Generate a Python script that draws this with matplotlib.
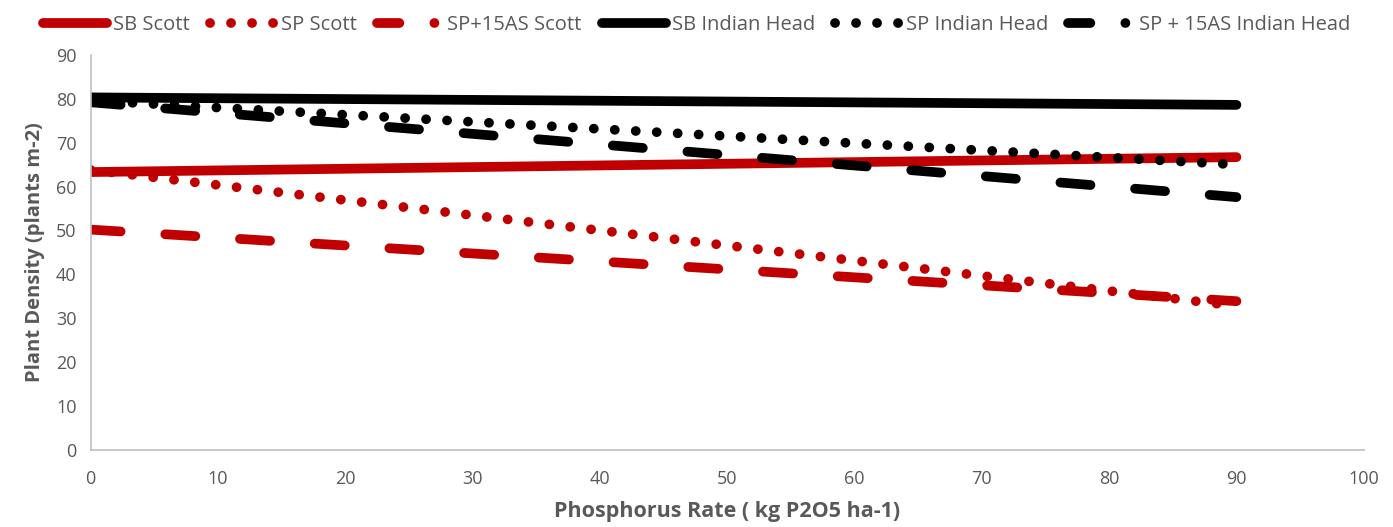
import numpy as np
import matplotlib.pyplot as plt
from matplotlib.lines import Line2D

plt.rcParams['font.family'] = ['Open Sans', 'DejaVu Sans']

# trend lines, phosphorus rate 0 -> 90
rate = [0, 90]
sb_scott = [63.3, 66.7]
sp_scott = [63.8, 32.8]
sp15_scott = [50.2, 33.9]
sb_ih = [80.3, 78.6]
sp_ih = [79.6, 65.0]
sp15_ih = [79.2, 57.6]

red = '#C00000'
blk = '#000000'
lw = 7
dot = (0, (0.01, 2.15))
dash = (0, (3.1, 4.6))
leg_dash = (0, (2.3, 3.6, 0.01, 10))

fig, ax = plt.subplots(figsize=(13.93, 5.27), dpi=100)
fig.subplots_adjust(left=0.065, right=0.979, top=0.896, bottom=0.146)

l1, = ax.plot(rate, sb_scott, color=red, lw=lw, solid_capstyle='round')
l2, = ax.plot(rate, sp_scott, color=red, lw=lw, ls=dot, dash_capstyle='round')
ax.plot(rate, sp15_scott, color=red, lw=lw, ls=dash, dash_capstyle='round')
l4, = ax.plot(rate, sb_ih, color=blk, lw=lw, solid_capstyle='round')
l5, = ax.plot(rate, sp_ih, color=blk, lw=lw, ls=dot, dash_capstyle='round')
ax.plot(rate, sp15_ih, color=blk, lw=lw, ls=dash, dash_capstyle='round')

h3 = Line2D([], [], color=red, lw=lw, ls=leg_dash, dash_capstyle='round')
h6 = Line2D([], [], color=blk, lw=lw, ls=leg_dash, dash_capstyle='round')

ax.set_xlim(0, 100)
ax.set_ylim(0, 90)
ax.set_xticks(range(0, 101, 10))
ax.set_yticks(range(0, 91, 10))
ax.tick_params(axis='x', length=0, labelsize=13, colors='#595959', pad=14)
ax.tick_params(axis='y', length=0, labelsize=13, colors='#595959', pad=10)
for s in ['top', 'right']:
    ax.spines[s].set_visible(False)
for s in ['left', 'bottom']:
    ax.spines[s].set_color('#BFBFBF')
    ax.spines[s].set_linewidth(1.2)

ax.set_xlabel('Phosphorus Rate ( kg P2O5 ha-1)', fontsize=15.5, fontweight='bold', color='#595959', labelpad=10)
ax.set_ylabel('Plant Density (plants m-2)', fontsize=14.5, fontweight='bold', color='#595959', labelpad=8)

fig.legend([l1, l2, h3, l4, l5, h6],
           ['SB Scott', 'SP Scott', 'SP+15AS Scott', 'SB Indian Head', 'SP Indian Head', 'SP + 15AS Indian Head'],
           loc='upper center', ncol=6, frameon=False, fontsize=14.5, labelcolor='#595959',
           handlelength=3.2, handletextpad=0.3, columnspacing=1.0, bbox_to_anchor=(0.5, 1.005))

plt.savefig('out.png')
